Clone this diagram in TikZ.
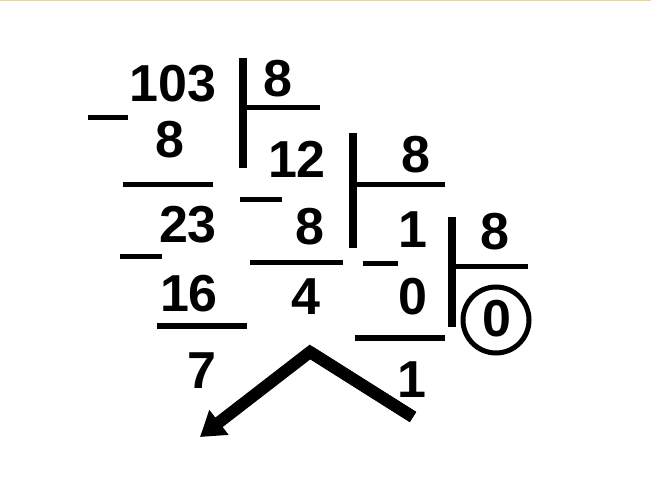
\documentclass[tikz,border=0pt]{standalone}
\usepackage{fontspec}
\setmainfont{Liberation Sans}
\usetikzlibrary{arrows.meta}
\definecolor{topgold}{RGB}{238,214,140}
\begin{document}
\begin{tikzpicture}[x=1pt,y=-1pt,
  digit/.style={anchor=base,inner sep=0pt,font=\fontsize{52}{60}\selectfont\bfseries},
  rule/.style={line width=5pt},
  bar/.style={line width=7.5pt},
  bigarrow/.style={line width=12pt,-{Triangle[length=24pt,width=30pt]}}]
\useasboundingbox (0,0) rectangle (651,497);
\fill[white] (0,0) rectangle (651,497);
\draw[topgold,line width=1.5pt] (0,0.75) -- (651,0.75);
% digits
\node[digit] (n103) at (173,102) {103};
\node[digit] (d1) at (278,97) {8};
\node[digit] (s1) at (170,158) {8};
\node[digit] (q12) at (297,178) {12};
\node[digit] (r23) at (188,243) {23};
\node[digit] (s2) at (310,245) {8};
\node[digit] (d2) at (416,173) {8};
\node[digit] (q1) at (413,248) {1};
\node[digit] (s16) at (189,312) {16};
\node[digit] (r4) at (306,315) {4};
\node[digit] (s0) at (413,315) {0};
\node[digit] (d3) at (495,250) {8};
\node[digit] (q0) at (497,337) {0};
\node[digit] (r7) at (202,388) {7};
\node[digit] (r1) at (412,397) {1};
\draw[line width=5pt] (496,320) circle (33);
% minus signs
\draw[rule] (88,118) -- (128,118);
\draw[rule] (240,200) -- (282,200);
\draw[rule] (120,257) -- (162,257);
\draw[rule] (363,264) -- (398,264);
% subtraction rules
\draw[rule] (123,185) -- (213,185);
\draw[rule] (250,263) -- (343,263);
\draw[line width=6pt] (157,326) -- (247,326);
\draw[line width=6pt] (355,338) -- (445,338);
% division brackets
\draw[bar] (243,58) -- (243,168);
\draw[rule] (243,108) -- (320,108);
\draw[bar] (353,133) -- (353,248);
\draw[rule] (353,185) -- (445,185);
\draw[bar] (452,217) -- (452,327);
\draw[rule] (452,267) -- (528,267);
% arrow
\draw[line width=12pt] (413,417) -- (310,352);
\draw[bigarrow,line join=miter] (413,417) -- (310,352) -- (200,437);
\end{tikzpicture}
\end{document}
